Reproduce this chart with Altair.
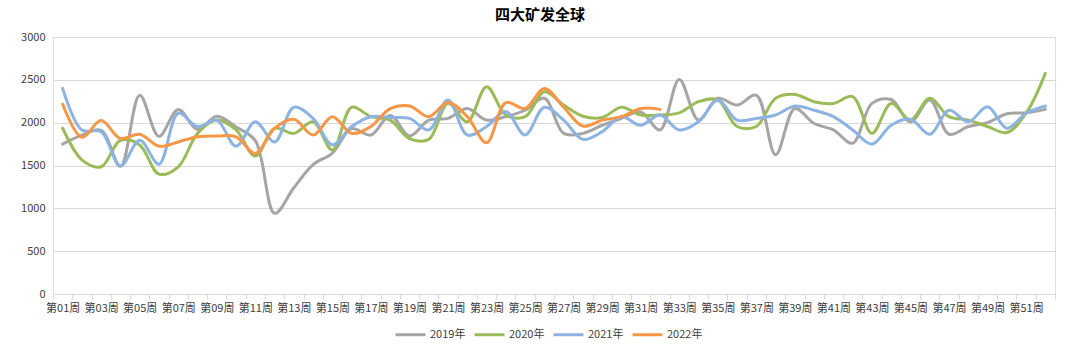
import altair as alt
import pandas as pd

weeks = [f"第{i:02d}周" for i in range(1, 53)]

v2019 = [1750, 1855, 1910, 1490, 2320, 1840, 2155, 1920, 2075, 1950,
         1790, 942, 1240, 1510, 1645, 1930, 1855, 2085, 1845, 2030,
         2050, 2165, 2030, 2070, 2145, 2285, 1875, 1875, 1970, 2050,
         2125, 1915, 2505, 2030, 2285, 2205, 2320, 1625, 2165, 1990,
         1915, 1760, 2225, 2270, 2010, 2265, 1865, 1955, 2000, 2105,
         2115, 2155]
v2020 = [1935, 1565, 1485, 1795, 1740, 1400, 1485, 1875, 2030, 1915,
         1610, 1935, 1875, 2010, 1680, 2180, 2070, 2030, 1815, 1805,
         2225, 2010, 2420, 2090, 2070, 2360, 2205, 2075, 2060, 2180,
         2090, 2090, 2115, 2245, 2265, 1955, 1955, 2285, 2330, 2245,
         2225, 2305, 1875, 2225, 2030, 2285, 2070, 2030, 1955, 1885,
         2110, 2575]
v2021 = [2400, 1915, 1895, 1495, 1795, 1515, 2110, 1955, 2030, 1725,
         2010, 1775, 2180, 2050, 1740, 1955, 2070, 2060, 2050, 1915,
         2265, 1855, 1955, 2130, 1855, 2180, 2030, 1805, 1895, 2070,
         1970, 2090, 1915, 2010, 2265, 2030, 2050, 2090, 2195, 2145,
         2070, 1915, 1750, 1970, 2040, 1865, 2145, 2010, 2185, 1935,
         2110, 2195]
v2022 = [2215, 1830, 2025, 1815, 1865, 1725, 1775, 1835, 1845, 1835,
         1640, 1935, 2040, 1855, 2070, 1875, 1955, 2165, 2195, 2070,
         2235, 2070, 1765, 2235, 2165, 2400, 2180, 1960, 2030, 2070,
         2165, 2155]

series = {"2019年": v2019, "2020年": v2020, "2021年": v2021, "2022年": v2022}
rows = []
for name, vals in series.items():
    for w, v in zip(weeks, vals):
        rows.append({"week": w, "value": v, "year": name})
df = pd.DataFrame(rows)

font = "Noto Sans CJK SC"

chart = alt.Chart(df).mark_line(
    interpolate="catmull-rom", strokeWidth=3, strokeCap="round"
).encode(
    x=alt.X("week:N", sort=weeks,
            scale=alt.Scale(type="band", domain=weeks, paddingInner=0, paddingOuter=0),
            axis=alt.Axis(title=None, labelAngle=0, labelFont=font, labelFontSize=11,
                          labelColor="#404040", domainColor="#D9D9D9", tickColor="#D9D9D9",
                          tickSize=5, tickBand="extent", labelPadding=3,
                          labelExpr="parseInt(substring(datum.label, 1, 3)) % 2 == 1 ? datum.label : ''",
                          labelOverlap=False)),
    y=alt.Y("value:Q", scale=alt.Scale(domain=[0, 3000], nice=False),
            axis=alt.Axis(title=None, values=[0, 500, 1000, 1500, 2000, 2500, 3000],
                          format="d",
                          labelFont=font, labelFontSize=11, labelColor="#404040",
                          gridColor="#D9D9D9", domain=False, ticks=False, labelPadding=8)),
    color=alt.Color("year:N",
                    scale=alt.Scale(domain=list(series.keys()),
                                    range=["#A5A5A5", "#9BBB59", "#8DB3E2", "#F79646"]),
                    legend=alt.Legend(title=None, orient="none", legendX=341, legendY=281,
                                      direction="horizontal",
                                      symbolType="stroke", symbolSize=900, symbolStrokeWidth=3,
                                      labelFont=font, labelFontSize=11, labelColor="#404040",
                                      columnPadding=2, labelOffset=3)),
    detail="year:N",
).properties(
    width=1002, height=257,
    title=alt.TitleParams("四大矿发全球", font=font, fontSize=15, fontWeight="bold",
                          color="#000000", anchor="middle", offset=8, dx=-14),
    autosize=alt.AutoSizeParams(type="none"),
    padding={"left": 53, "top": 37, "right": 25, "bottom": 61},
).configure_view(stroke=None).configure(background="white")

chart.save("out.html", embed_options={"renderer": "svg", "actions": False})
